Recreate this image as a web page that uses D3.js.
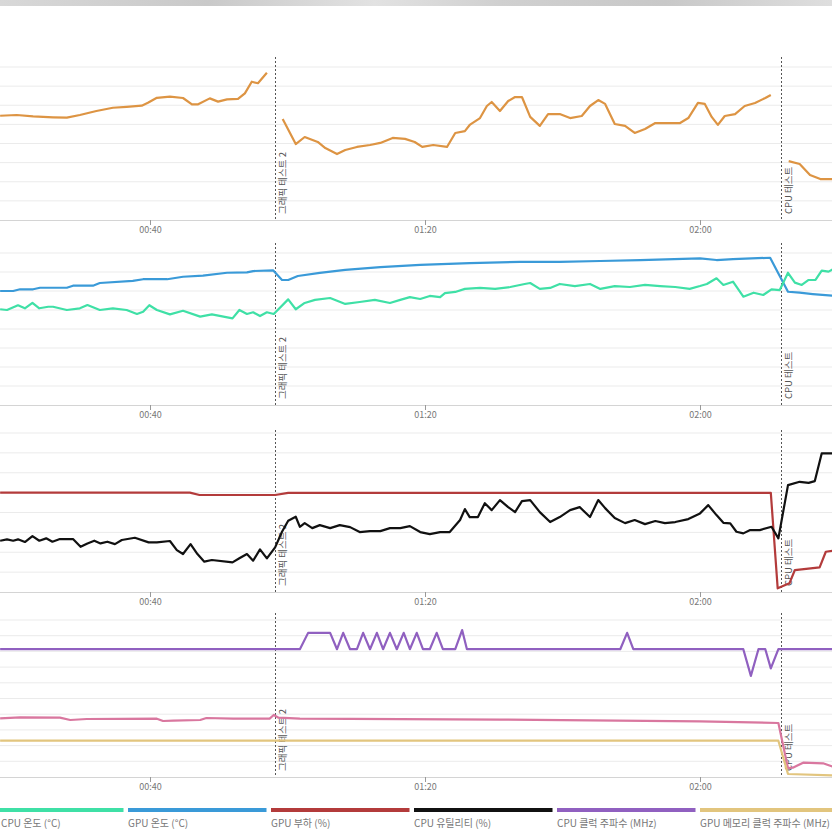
<!DOCTYPE html>
<html><head><meta charset="utf-8">
<script src="https://cdn.jsdelivr.net/npm/d3@7"></script>
<style>html,body{margin:0;padding:0;background:#fff;overflow:hidden}svg{display:block}</style>
</head><body>
<script>
// ---- data (time in seconds, value) ----
const timeTicks = [40, 80, 120];
const timeTickLabels = ["00:40", "01:20", "02:00"];
const testMarks = [58.2, 131.8];
const testLabels = ["그래픽 테스트 2", "CPU 테스트"];

// panel 1 (orange) – null = gap
const fps = [[18.2,54.5],[20.6,54.9],[23.0,54.2],[25.9,53.7],[27.9,53.5],[29.8,54.9],[32.2,57.0],[34.6,58.7],[36.6,59.2],[38.8,59.8],[39.7,61.3],[41.0,63.9],[42.9,64.5],[44.8,63.8],[46.1,60.5],[47.0,60.5],[48.7,63.6],[49.9,61.9],[51.2,63.1],[52.8,63.3],[53.8,66.2],[54.8,72.3],[55.7,71.5],[57.0,77.0],[58.2,null],
[59.3,52.8],[61.2,39.7],[62.5,43.4],[64.4,40.8],[65.5,37.6],[67.2,34.5],[68.4,36.6],[70.1,38.2],[72.0,39.2],[73.5,40.3],[75.3,42.9],[77.1,42.4],[78.5,40.8],[79.6,38.2],[81.2,39.2],[83.2,38.2],[84.4,45.5],[85.8,46.5],[86.5,49.7],[88.0,53.3],[89.0,59.6],[89.7,61.7],[90.9,57.0],[92.1,62.2],[93.1,64.3],[94.1,64.3],[95.3,53.9],[96.7,49.2],[97.9,55.4],[99.6,55.4],[101.1,53.3],[102.8,54.4],[104.0,59.6],[105.2,62.7],[106.2,60.7],[107.6,50.2],[109.1,49.2],[110.5,45.5],[112.0,47.6],[113.5,50.7],[114.9,50.7],[117.1,50.7],[118.3,53.3],[119.7,61.2],[120.7,60.7],[121.7,53.9],[122.6,49.7],[123.6,54.4],[125.1,55.4],[126.5,59.6],[128.0,61.2],[129.5,63.8],[130.3,65.4],[131.8,null],
[132.9,30.8],[134.5,29.3],[136.0,23.5],[137.5,21.4],[139.3,21.4]];

// panel 2 temperatures (°C)
const gpuTemp = [[18.2,60.0],[20.1,60.0],[21.1,60.9],[23.0,60.9],[24.0,61.7],[27.9,61.7],[28.8,62.8],[31.7,62.8],[32.7,64.2],[37.5,65.3],[39.0,66.2],[42.5,66.2],[44.8,67.5],[47.7,68.1],[51.2,69.6],[54.1,69.8],[55.0,70.5],[57.9,70.9],[59.2,65.8],[60.1,65.8],[61.5,67.9],[64.7,69.5],[68.4,71.1],[73.5,72.6],[79.3,73.7],[86.5,74.7],[93.8,75.3],[99.6,75.3],[105.5,75.8],[111.3,76.3],[120.0,77.2],[122.4,76.3],[124.8,76.8],[130.2,77.5],[132.8,59.6],[134.5,59.1],[136.4,58.4],[139.3,57.5]];
const cpuTemp = [[18.2,50.4],[19.2,50.0],[20.8,52.5],[21.8,50.9],[22.9,53.8],[23.9,50.9],[25.2,51.7],[25.9,51.7],[27.9,50.0],[29.8,50.9],[30.9,52.6],[32.7,50.0],[34.6,50.9],[36.6,50.0],[38.1,47.9],[39.0,49.1],[39.9,52.5],[41.0,50.0],[42.9,47.7],[44.8,49.6],[47.3,46.5],[49.0,47.7],[52.0,45.6],[53.0,50.0],[54.1,47.9],[55.0,48.8],[56.0,46.8],[57.0,48.8],[58.0,47.9],[60.1,55.6],[61.2,50.4],[62.5,53.7],[64.0,55.3],[66.2,56.3],[68.4,53.2],[70.5,54.2],[72.7,55.3],[74.9,53.7],[76.4,55.3],[77.8,56.8],[79.3,55.8],[80.7,57.4],[82.2,56.8],[82.9,58.9],[84.4,59.5],[85.8,61.1],[88.0,61.6],[90.2,61.1],[92.4,62.1],[94.5,63.7],[95.3,64.2],[96.7,61.1],[98.2,61.6],[99.6,63.7],[101.8,62.6],[104.0,63.7],[105.5,61.1],[107.6,62.6],[109.8,62.1],[112.0,63.2],[114.2,62.6],[116.4,62.1],[118.5,61.1],[120.0,62.6],[121.0,63.7],[122.4,66.7],[123.4,63.2],[124.8,64.9],[126.3,57.0],[127.8,59.1],[129.2,57.9],[130.4,60.9],[131.6,60.5],[132.8,69.6],[133.8,64.4],[134.8,63.2],[135.8,65.8],[136.8,65.8],[137.7,70.7],[138.7,70.2],[139.3,71.4]];

// panel 3 (%)
const gpuLoad = [[18.2,100],[45.8,100],[47.2,97.6],[58.2,97.6],[60.1,99.8],[130.3,99.8],[131.3,3.7],[133.0,8.7],[133.8,22.1],[137.4,24.8],[138.3,40.5],[139.3,41.5]];
const cpuUtil = [[18.2,51.6],[19.2,53.0],[20.1,51.6],[20.8,53.0],[21.8,50.3],[22.9,56.3],[23.9,51.6],[24.9,54.0],[25.8,50.6],[26.9,53.3],[28.8,53.3],[29.9,45.5],[30.9,48.9],[31.9,51.6],[32.8,48.9],[33.8,50.6],[34.9,48.2],[35.9,52.3],[37.8,54.6],[39.8,49.9],[41.0,49.9],[42.9,51.3],[43.9,42.2],[44.8,38.2],[45.9,48.2],[46.9,38.2],[47.9,30.5],[49.0,32.2],[52.0,29.8],[53.0,33.9],[54.1,38.2],[55.0,31.5],[56.0,42.9],[57.0,33.9],[58.2,44.9],[59.2,60.6],[60.1,71.7],[61.2,75.7],[61.8,65.6],[62.5,69.3],[63.6,64.3],[64.7,67.3],[66.2,64.3],[67.6,67.3],[69.1,65.3],[70.5,60.3],[72.0,61.3],[73.5,61.3],[74.9,64.3],[76.4,64.3],[77.8,66.3],[79.3,60.3],[80.7,58.3],[82.2,60.3],[83.6,60.3],[85.1,72.4],[85.8,83.4],[86.5,75.4],[87.7,75.4],[88.7,89.4],[89.7,82.4],[90.9,92.5],[92.1,85.4],[93.1,80.4],[94.1,91.5],[95.3,92.5],[96.7,80.4],[98.2,70.4],[99.6,75.4],[101.1,82.4],[102.5,85.4],[104.0,75.4],[105.2,92.5],[106.2,84.4],[107.6,74.4],[109.1,69.3],[110.5,72.4],[112.0,68.3],[113.5,71.4],[114.9,69.3],[116.4,70.4],[118.3,73.4],[120.0,79.1],[121.2,87.4],[122.4,77.4],[123.4,69.6],[124.4,69.0],[125.3,60.6],[126.3,59.0],[127.3,62.3],[128.7,62.3],[130.4,65.6],[131.4,54.0],[132.8,107.5],[134.5,110.9],[135.8,109.8],[136.7,111.6],[137.7,139.4],[139.3,139.4]];

// panel 4 (MHz)
const cpuClock = [[18.2,4070],[61.8,4070],[63.0,4590],[66.2,4590],[67.2,4070],[68.1,4590],[69.1,4070],[70.1,4070],[71.0,4590],[72.0,4070],[73.0,4590],[73.9,4070],[74.9,4590],[75.9,4070],[76.9,4590],[77.8,4070],[78.8,4590],[79.7,4070],[80.7,4070],[81.7,4590],[82.6,4070],[84.4,4070],[85.4,4680],[86.1,4070],[108.4,4070],[109.4,4590],[110.3,4070],[126.3,4070],[127.4,3220],[128.5,4070],[129.5,4070],[130.3,3460],[131.4,4070],[139.3,4070]];
const gpuClock = [[18.2,1870],[21.1,1900],[26.9,1890],[28.4,1815],[30.8,1847],[41.0,1857],[41.9,1784],[43.4,1793],[47.3,1815],[48.2,1879],[52.1,1857],[57.4,1857],[58.0,1975],[58.7,1889],[61.8,1857],[90.9,1830],[120.0,1770],[131.4,1720],[132.8,280],[133.5,296],[135.0,456],[137.9,436],[139.3,329]];
const gpuMemClock = [[18.2,1156],[131.4,1156],[132.8,96],[139.3,54]];

const legendNames = ["CPU 온도 (°C)","GPU 온도 (°C)","GPU 부하 (%)","CPU 유틸리티 (%)","CPU 클럭 주파수 (MHz)","GPU 메모리 클럭 주파수 (MHz)"];
const legendColors = ["#3fe0a6","#3a9ad8","#b33b3b","#111111","#9060c0","#e2c57e"];

// ---- drawing ----
const W = 832, H = 832;
const svg = d3.select("body").append("svg").attr("width", W).attr("height", H);
const FONT = "'Noto Sans CJK KR','Noto Sans',sans-serif";

// top grey strip
const grad = svg.append("defs").append("linearGradient").attr("id","topg");
[["0%","#d8d8d8"],["25%","#c9c9c9"],["45%","#e2e2e2"],["60%","#d0d0d0"],["80%","#c8c8c8"],["100%","#dedede"]]
  .forEach(s=>grad.append("stop").attr("offset",s[0]).attr("stop-color",s[1]));
svg.append("rect").attr("x",0).attr("y",0).attr("width",W).attr("height",6).attr("fill","url(#topg)");

const x = d3.scaleLinear().domain([40,120]).range([150,700]);

const panels = [
  {top:57, bottom:220, domain:[0,80], yTop:67, ticks:d3.range(0,81,10), series:[{d:fps,c:"#dd9443"}]},
  {top:243, bottom:405, domain:[0,80], yTop:253, ticks:d3.range(0,81,10), series:[{d:gpuTemp,c:legendColors[1]},{d:cpuTemp,c:legendColors[0]}]},
  {top:430, bottom:592, domain:[0,160], yTop:433, ticks:d3.range(0,161,20), series:[{d:gpuLoad,c:legendColors[2]},{d:cpuUtil,c:legendColors[3]}]},
  {top:613, bottom:777, domain:[0,5000], yTop:620, ticks:d3.range(0,5001,500), series:[{d:cpuClock,c:legendColors[4]},{d:gpuClock,c:"#d9779f"},{d:gpuMemClock,c:legendColors[5]}]}
];

panels.forEach(p=>{
  const y = d3.scaleLinear().domain(p.domain).range([p.bottom, p.yTop]);
  const g = svg.append("g");
  g.selectAll("line.grid").data(p.ticks.slice(1)).join("line")
    .attr("x1",0).attr("x2",W).attr("y1",d=>y(d)).attr("y2",d=>y(d))
    .attr("stroke","#ebebeb").attr("stroke-width",1);
  const ax = g.append("g").attr("transform",`translate(0,${p.bottom})`)
    .call(d3.axisBottom(x).tickValues(timeTicks).tickFormat((d,i)=>timeTickLabels[i]).tickSize(5).tickPadding(2));
  ax.select(".domain").attr("stroke","#d4d4d4").attr("d",`M0,0.5H${W}`);
  ax.selectAll(".tick line").attr("stroke","#999");
  ax.selectAll("text").attr("fill","#777").attr("font-size",9).attr("font-family",FONT);
  testMarks.forEach((t,i)=>{
    g.append("line").attr("x1",Math.round(x(t))+0.5).attr("x2",Math.round(x(t))+0.5)
      .attr("y1",p.top).attr("y2",p.bottom)
      .attr("stroke","#555").attr("stroke-width",1).attr("stroke-dasharray","2,2");
    g.append("text").attr("transform",`translate(${x(t)+10.5},${p.bottom-6}) rotate(-90)`)
      .attr("font-size",9.5).attr("font-family",FONT).attr("fill","#555").text(testLabels[i]);
  });
  p.series.forEach(s=>{
    const line = d3.line().defined(d=>d[1]!==null).x(d=>x(d[0])).y(d=>y(d[1]));
    g.append("path").datum(s.d).attr("d",line).attr("fill","none")
      .attr("stroke",s.c).attr("stroke-width",2.2).attr("stroke-linejoin","round");
  });
});

// legend
const lg = svg.append("g");
legendNames.forEach((n,i)=>{
  const lx = -15 + i*143;
  lg.append("rect").attr("x",lx).attr("y",808).attr("width",138.5).attr("height",4).attr("fill",legendColors[i]);
  lg.append("text").attr("x",Math.max(lx,1)).attr("y",827).attr("font-size",10).attr("font-family",FONT).attr("fill","#777").text(n);
});
</script>
</body></html>
